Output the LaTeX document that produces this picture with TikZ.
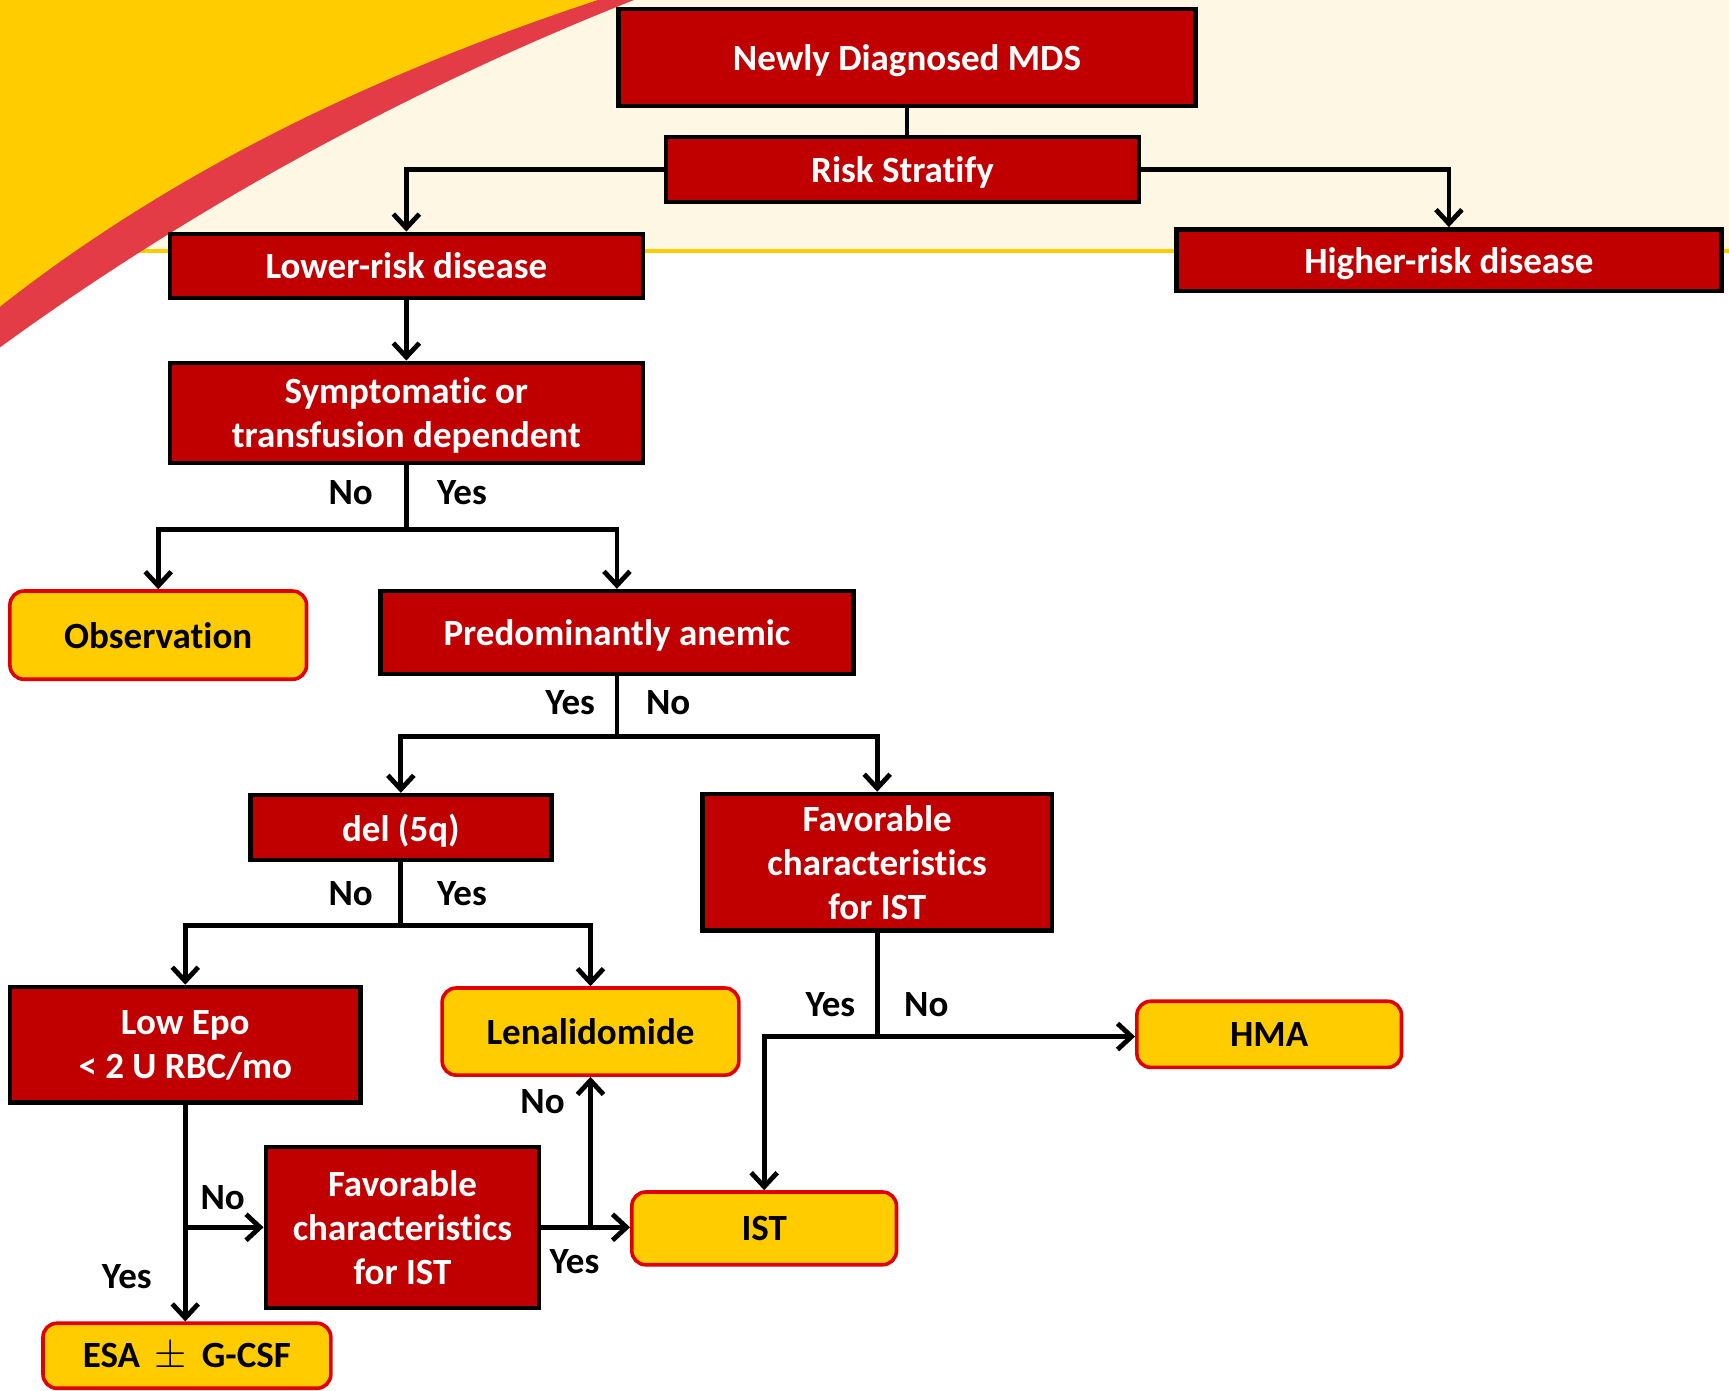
\documentclass[tikz,border=0pt]{standalone}
\usepackage{fontspec}
\setmainfont{Carlito}[Ligatures=NoCommon]
\usetikzlibrary{arrows.meta}
\definecolor{cream}{RGB}{253,247,227}
\definecolor{bgyellow}{RGB}{255,204,0}
\definecolor{bandred}{RGB}{228,60,70}
\definecolor{boxred}{RGB}{192,0,0}
\definecolor{boxyellow}{RGB}{255,204,0}
\definecolor{borderred}{RGB}{225,0,0}
\begin{document}
\begin{tikzpicture}[x=0.55135pt,y=-0.55135pt,
  txt/.style={font=\fontsize{18.5pt}{22pt}\selectfont\bfseries},
  rbox/.style={txt,draw=black,line width=2.2pt,fill=boxred,text=white,align=center,inner sep=0pt,text depth=0pt},
  ybox/.style={txt,draw=borderred,line width=1.8pt,fill=boxyellow,text=black,rounded corners=7pt,align=center,inner sep=0pt,text depth=0pt},
  sz/.style 2 args={minimum width=#1*0.55135pt,minimum height=#2*0.55135pt},
  lbl/.style={txt,text=black,inner sep=0pt},
  conn/.style={draw=black,line width=2.4pt},
  arr/.style={conn,-{Straight Barb[length=7pt,width=13pt]}}]
\useasboundingbox (0,0) rectangle (1568,1261);
% background
\fill[white] (0,0) rectangle (1568,1261);
\fill[cream] (0,0) rectangle (1568,228);
\draw[bgyellow,line width=2pt] (0,228) -- (1568,228);
\fill[bandred] (0,0) -- (575,0) .. controls (360,85) and (165,195) .. (0,315) -- cycle;
\fill[bgyellow] (0,0) -- (542,0) .. controls (330,70) and (150,160) .. (0,278) -- cycle;
% nodes
\node[rbox,sz={523}{88}] (mds) at (822.5,52) {Newly Diagnosed MDS};
\node[rbox,sz={429}{59}] (risk) at (818.5,153.5) {Risk Stratify};
\node[rbox,sz={429}{58}] (low) at (368.5,241) {Lower-risk disease};
\node[rbox,sz={494}{56}] (high) at (1314,236) {Higher-risk disease};
\node[rbox,sz={429}{91}] (sym) at (368.5,374.5) {Symptomatic or\\transfusion dependent};
\node[ybox,sz={269}{80}] (obs) at (143.5,576) {Observation};
\node[rbox,sz={429}{75}] (anem) at (559.5,573.5) {Predominantly anemic};
\node[rbox,sz={273}{59}] (del) at (363.5,750.5) {del (5q)};
\node[rbox,sz={317}{124}] (fav1) at (795.5,782) {Favorable\\characteristics\\for IST};
\node[rbox,sz={318}{105}] (epo) at (168,947.5) {Low Epo\\< 2 U RBC/mo};
\node[ybox,sz={269}{79}] (len) at (535.5,935.5) {Lenalidomide};
\node[ybox,sz={240}{60}] (hma) at (1151,938) {HMA};
\node[rbox,sz={248}{146}] (fav2) at (365,1113) {Favorable\\characteristics\\for IST};
\node[ybox,sz={240}{66}] (ist) at (693,1114) {IST};
\node[ybox,sz={261}{59}] (esa) at (169.5,1229.5) {ESA\hspace{0.4em}{\mdseries\fontsize{20pt}{20pt}\selectfont$\pm$}\hspace{0.4em}G-CSF};
% connectors
\draw[conn] (mds.south) -- (mds.south |- risk.north);
\draw[arr] (risk.west) -| (low.north);
\draw[arr] (risk.east) -| (high.north);
\draw[arr] (low.south) -- (sym.north);
\path (sym.south) ++(0,58) coordinate (j1);
\draw[conn] (sym.south) -- (j1);
\draw[arr] (j1) -| (obs.north);
\draw[arr] (j1) -| (anem.north);
\path (anem.south) ++(0,55) coordinate (j2);
\draw[conn] (anem.south) -- (j2);
\draw[arr] (j2) -| (del.north);
\draw[arr] (j2) -| (fav1.north);
\path (del.south) ++(0,57) coordinate (j3);
\draw[conn] (del.south) -- (j3);
\draw[arr] (j3) -| (epo.north);
\draw[arr] (j3) -| (len.north);
\path (fav1.south) ++(0,94) coordinate (j4);
\draw[conn] (fav1.south) -- (j4);
\draw[arr] (j4) -- (j4 -| hma.west);
\draw[arr] (j4) -| (ist.north);
\draw[arr] (epo.south) -- (epo.south |- esa.north);
\draw[arr] (epo.south |- fav2.west) -- (fav2.west);
\draw[arr] (fav2.east) -- (fav2.east -| ist.west);
\draw[arr] (len.south |- fav2.east) -- (len.south);
% labels
\node[lbl] (l1) at (318,447) {No};
\node[lbl] (l2) at (419,447) {Yes};
\node[lbl] (l3) at (517,637) {Yes};
\node[lbl] (l4) at (606,637) {No};
\node[lbl] (l5) at (318,810) {No};
\node[lbl] (l6) at (419,810) {Yes};
\node[lbl] (l7) at (753,911) {Yes};
\node[lbl] (l8) at (840,911) {No};
\node[lbl] (l9) at (202,1086) {No};
\node[lbl] (l10) at (115,1158) {Yes};
\node[lbl] (l11) at (492,999) {No};
\node[lbl] (l12) at (521,1144) {Yes};
\end{tikzpicture}
\end{document}
